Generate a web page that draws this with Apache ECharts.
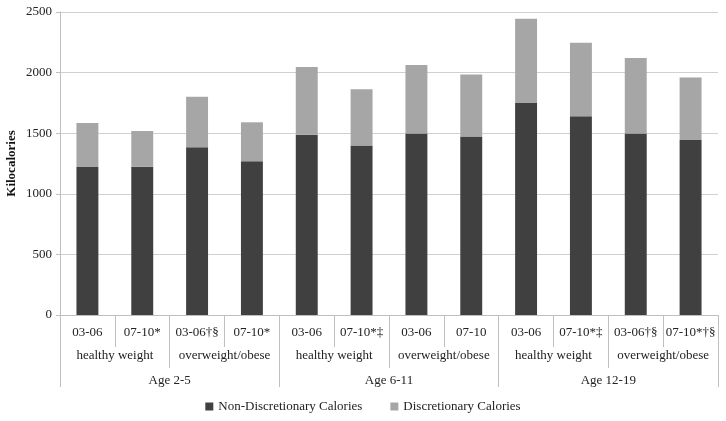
<!DOCTYPE html>
<html>
<head>
<meta charset="utf-8">
<script src="https://cdn.jsdelivr.net/npm/echarts@6/dist/echarts.min.js"></script>
<style>html,body{margin:0;padding:0;background:#fff;}#c{width:726px;height:421px;}</style>
</head>
<body>
<div id="c"></div>
<script>
const periods = ['03-06','07-10*','03-06†§','07-10*','03-06','07-10*‡','03-06','07-10','03-06','07-10*‡','03-06†§','07-10*†§'];
const weightGroups = ['healthy weight','overweight/obese','healthy weight','overweight/obese','healthy weight','overweight/obese'];
const ageGroups = ['Age 2-5','Age 6-11','Age 12-19'];
const nonDiscretionary = [1222, 1222, 1384, 1269, 1487, 1398, 1497, 1472, 1749, 1639, 1497, 1444];
const totalCalories = [1584, 1518, 1801, 1590, 2046, 1862, 2062, 1985, 2444, 2246, 2120, 1960];
const discretionary = totalCalories.map((t, i) => t - nonDiscretionary[i]);
const yTicks = { min: 0, max: 2500, interval: 500 };

const font = 'Liberation Serif';
const sepColor = '#bfbfbf';
const chart = echarts.init(document.getElementById('c'));
chart.setOption({
  animation: false,
  textStyle: { fontFamily: font },
  grid: { left: 60, right: 8, top: 12, bottom: 106, outerBoundsMode: 'none', containLabel: false },
  legend: {
    bottom: 3, left: 'center', itemWidth: 8, itemHeight: 8, itemGap: 28,
    textStyle: { fontFamily: font, fontSize: 13, color: '#222' },
    data: [
      { name: 'Non-Discretionary Calories', icon: 'rect' },
      { name: 'Discretionary Calories', icon: 'rect' }
    ]
  },
  xAxis: [
    {
      type: 'category', data: periods, position: 'bottom',
      axisLine: { lineStyle: { color: sepColor } },
      axisTick: { show: true, interval: 0, length: 32, lineStyle: { color: sepColor } },
      axisLabel: { interval: 0, margin: 11, fontFamily: font, fontSize: 13, color: '#222' }
    },
    {
      type: 'category', data: weightGroups, position: 'bottom',
      axisLine: { show: false },
      axisTick: { show: true, interval: 0, length: 53, lineStyle: { color: sepColor } },
      axisLabel: { interval: 0, margin: 34, fontFamily: font, fontSize: 13, color: '#222' }
    },
    {
      type: 'category', data: ageGroups, position: 'bottom',
      axisLine: { show: false },
      axisTick: { show: true, interval: 0, length: 72, lineStyle: { color: sepColor } },
      axisLabel: { interval: 0, margin: 59, fontFamily: font, fontSize: 13, color: '#222' }
    }
  ],
  yAxis: {
    type: 'value', min: yTicks.min, max: yTicks.max, interval: yTicks.interval,
    name: 'Kilocalories', nameLocation: 'middle', nameGap: 48, nameMoveOverlap: false,
    nameTextStyle: { fontFamily: font, fontSize: 13, fontWeight: 'bold', color: '#111', verticalAlign: 'middle' },
    axisLine: { show: true, lineStyle: { color: sepColor } },
    axisTick: { show: true, length: 4, lineStyle: { color: sepColor } },
    axisLabel: { margin: 8, fontFamily: font, fontSize: 13, color: '#222', formatter: v => String(v) },
    splitLine: { lineStyle: { color: '#d0d0d0' } }
  },
  series: [
    {
      name: 'Non-Discretionary Calories', type: 'bar', stack: 'k', barWidth: '40%',
      itemStyle: { color: '#404040' }, data: nonDiscretionary
    },
    {
      name: 'Discretionary Calories', type: 'bar', stack: 'k', barWidth: '40%',
      itemStyle: { color: '#a6a6a6' }, data: discretionary
    }
  ]
});
</script>
</body>
</html>
